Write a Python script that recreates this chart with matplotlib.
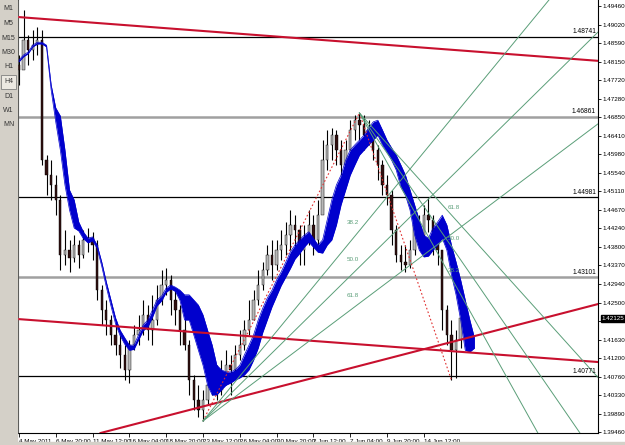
from matplotlib import pyplot as plt
from matplotlib.patches import Rectangle
import numpy as np

plt.rcParams['font.family'] = ['Liberation Sans', 'DejaVu Sans']

# H4 candles, one drawn every second bar slot
closes = [1.4796, 1.4866, 1.4843, 1.4854, 1.4866, 1.4584, 1.4549, 1.4526, 1.4491, 1.4362,
          1.4373, 1.4355, 1.4385, 1.4362, 1.4397, 1.4401, 1.4385, 1.4279, 1.4232, 1.4209,
          1.4174, 1.4150, 1.4127, 1.4092, 1.4150, 1.4174, 1.4185, 1.4221, 1.4185, 1.4209,
          1.4256, 1.4291, 1.4303, 1.4256, 1.4232, 1.4185, 1.4150, 1.4068, 1.4021, 1.3998,
          1.4021, 1.4056, 1.4080, 1.4045, 1.4068, 1.4103, 1.4092, 1.4127, 1.4150, 1.4185,
          1.4209, 1.4256, 1.4291, 1.4326, 1.4362, 1.4338, 1.4373, 1.4385, 1.4408, 1.4432,
          1.4420, 1.4373, 1.4397, 1.4432, 1.4397, 1.4455, 1.4584, 1.4620, 1.4643, 1.4608,
          1.4573, 1.4608, 1.4655, 1.4678, 1.4667, 1.4643, 1.4655, 1.4608, 1.4573, 1.4526,
          1.4502, 1.4420, 1.4362, 1.4345, 1.4338, 1.4373, 1.4432, 1.4408, 1.4455, 1.4444,
          1.4397, 1.4373, 1.4232, 1.4174, 1.4138, 1.4162, 1.42125]
highs = [1.4831, 1.4937, 1.4878, 1.4890, 1.4897, 1.4890, 1.4596, 1.4584, 1.4549, 1.4502,
         1.4420, 1.4397, 1.4408, 1.4397, 1.4420, 1.4425, 1.4416, 1.4397, 1.4291, 1.4256,
         1.4221, 1.4209, 1.4174, 1.4150, 1.4162, 1.4197, 1.4221, 1.4256, 1.4244, 1.4268,
         1.4291, 1.4326, 1.4331, 1.4315, 1.4279, 1.4244, 1.4232, 1.4162, 1.4080, 1.4056,
         1.4045, 1.4092, 1.4115, 1.4103, 1.4115, 1.4138, 1.4127, 1.4150, 1.4185, 1.4209,
         1.4256, 1.4279, 1.4326, 1.4345, 1.4385, 1.4397, 1.4397, 1.4420, 1.4439, 1.4467,
         1.4455, 1.4432, 1.4432, 1.4467, 1.4455, 1.4491, 1.4631, 1.4655, 1.4660, 1.4655,
         1.4631, 1.4631, 1.4678, 1.4690, 1.4695, 1.4690, 1.4678, 1.4667, 1.4620, 1.4584,
         1.4549, 1.4514, 1.4432, 1.4385, 1.4385, 1.4397, 1.4467, 1.4455, 1.4479, 1.4495,
         1.4455, 1.4420, 1.4373, 1.4244, 1.4209, 1.4185, 1.4256]
lows = [1.4761, 1.4819, 1.4808, 1.4819, 1.4831, 1.4573, 1.4502, 1.4491, 1.4455, 1.4326,
        1.4338, 1.4322, 1.4345, 1.4331, 1.4355, 1.4369, 1.4350, 1.4256, 1.4197, 1.4174,
        1.4150, 1.4127, 1.4096, 1.4068, 1.4061, 1.4138, 1.4150, 1.4174, 1.4162, 1.4150,
        1.4197, 1.4244, 1.4268, 1.4221, 1.4197, 1.4150, 1.4138, 1.4033, 1.3998, 1.3981,
        1.3972, 1.4009, 1.4033, 1.4021, 1.4033, 1.4056, 1.4033, 1.4080, 1.4115, 1.4138,
        1.4174, 1.4209, 1.4244, 1.4279, 1.4315, 1.4303, 1.4326, 1.4350, 1.4362, 1.4373,
        1.4373, 1.4338, 1.4338, 1.4385, 1.4362, 1.4385, 1.4467, 1.4561, 1.4584, 1.4573,
        1.4549, 1.4526, 1.4608, 1.4631, 1.4631, 1.4608, 1.4620, 1.4584, 1.4537, 1.4502,
        1.4479, 1.4385, 1.4345, 1.4326, 1.4322, 1.4331, 1.4362, 1.4385, 1.4397, 1.4416,
        1.4362, 1.4338, 1.4185, 1.4150, 1.4068, 1.4073, 1.4143]
first_open = 1.4808

# blue cloud (two lines, filled between)
cloud_top = [1.4819, 1.4831, 1.4838, 1.4854, 1.4861, 1.4861, 1.4854, 1.4761, 1.4707, 1.4688,
             1.4608, 1.4514, 1.4491, 1.4439, 1.4416, 1.4401, 1.4404, 1.4385, 1.4345, 1.4298,
             1.4256, 1.4214, 1.4185, 1.4167, 1.4150, 1.4150, 1.4174, 1.4197, 1.4209, 1.4232,
             1.4256, 1.4265, 1.4284, 1.4291, 1.4286, 1.4279, 1.4268, 1.4268, 1.4256, 1.4244,
             1.4221, 1.4185, 1.4150, 1.4103, 1.4092, 1.4087, 1.4087, 1.4092, 1.4103, 1.4127,
             1.4150, 1.4174, 1.4209, 1.4237, 1.4261, 1.4279, 1.4303, 1.4322, 1.4345, 1.4369,
             1.4385, 1.4397, 1.4408, 1.4416, 1.4401, 1.4385, 1.4397, 1.4444, 1.4491, 1.4526,
             1.4549, 1.4584, 1.4608, 1.4620, 1.4631, 1.4643, 1.4660, 1.4674, 1.4678, 1.4655,
             1.4631, 1.4613, 1.4596, 1.4573, 1.4549, 1.4514, 1.4479, 1.4444, 1.4408, 1.4401,
             1.4425, 1.4439, 1.4455, 1.4432, 1.4385, 1.4345, 1.4303, 1.4256, 1.4209, 1.4167]
cloud_bottom = [1.4815, 1.4827, 1.4834, 1.4850, 1.4857, 1.4857, 1.4850, 1.4749, 1.4674, 1.4608,
                1.4526, 1.4467, 1.4425, 1.4418, 1.4400, 1.4390, 1.4395, 1.4377, 1.4335, 1.4286,
                1.4242, 1.4200, 1.4172, 1.4152, 1.4138, 1.4140, 1.4162, 1.4184, 1.4192, 1.4215,
                1.4242, 1.4254, 1.4274, 1.4282, 1.4276, 1.4255, 1.4209, 1.4209, 1.4174, 1.4138,
                1.4103, 1.4056, 1.4033, 1.4033, 1.4045, 1.4056, 1.4061, 1.4068, 1.4073, 1.4080,
                1.4092, 1.4115, 1.4143, 1.4180, 1.4210, 1.4240, 1.4265, 1.4290, 1.4310, 1.4330,
                1.4352, 1.4365, 1.4380, 1.4392, 1.4380, 1.4368, 1.4366, 1.4385, 1.4397, 1.4432,
                1.4479, 1.4514, 1.4549, 1.4573, 1.4596, 1.4608, 1.4620, 1.4631, 1.4643, 1.4620,
                1.4603, 1.4584, 1.4561, 1.4521, 1.4502, 1.4467, 1.4408, 1.4373, 1.4357, 1.4359,
                1.4373, 1.4385, 1.4401, 1.4373, 1.4315, 1.4268, 1.4209, 1.4138, 1.4134, 1.4143]

date_labels = ["4 May 2011", "6 May 20:00", "11 May 12:00", "16 May 04:00", "18 May 20:00",
               "23 May 12:00", "26 May 04:00", "30 May 20:00", "2 Jun 12:00", "7 Jun 04:00",
               "9 Jun 20:00", "14 Jun 12:00"]
price_ticks = [1.49460, 1.49020, 1.48590, 1.48150, 1.47720, 1.47280, 1.46850, 1.46410,
               1.45980, 1.45540, 1.45110, 1.44670, 1.44240, 1.43800, 1.43370, 1.42940,
               1.42500, 1.42060, 1.41630, 1.41200, 1.40760, 1.40330, 1.39890, 1.39460]
last_price = 1.42125

levels = [1.48741, 1.46861, 1.44981, 1.43101, 1.40771]
level_colors = ['black', '#a0a0a0', 'black', '#a0a0a0', 'black']

# trend lines: (bar, price) pairs
trend_lines = [((0, 1.4920), (250, 1.4818)),
               ((0, 1.4211), (250, 1.4111)),
               ((0, 1.3894), (250, 1.4244))]

# fib fans: anchor bars / prices
fan_low = (80, 1.3972)
fan_high = (148, 1.4695)
fan_low2 = (188, 1.4068)
fib_ratios = [0.382, 0.5, 0.618]

timeframes = ["M1", "M5", "M15", "M30", "H1", "H4", "D1", "W1", "MN"]

W, H = 625, 445
fig = plt.figure(figsize=(W / 100, H / 100), dpi=100)
fig.patches.append(Rectangle((0, 0), 17 / W, 1, transform=fig.transFigure,
                             color='#d4d0c8', zorder=0))
fig.patches.append(Rectangle((0, 0), 1, 3 / H, transform=fig.transFigure,
                             color='#d4d0c8', zorder=0))

for n, tf in enumerate(timeframes):
    yp = 9 + n * 14.5
    if tf == "H4":
        fig.patches.append(Rectangle((1 / W, 1 - (yp + 7) / H), 15 / W, 14 / H,
                                     transform=fig.transFigure, facecolor='#ece9e2',
                                     edgecolor='#808080', lw=0.6))
    fig.text(8.5 / W, 1 - yp / H, tf, fontsize=5, color='#333333',
             ha='center', va='center')

ax = fig.add_axes([18 / W, 12 / H, 580 / W, 433 / H])
ax.set_xlim(-0.4, 251.7)
ax.set_ylim(1.39437, 1.49601)

# candles
xs = np.arange(len(closes)) * 2
opens = [first_open] + closes[:-1]
ax.vlines(xs, lows, highs, color='black', lw=0.8, zorder=2)
for x, o, c in zip(xs, opens, closes):
    col = '#b8b8b8' if c >= o else '#301010'
    ax.bar(x, c - o, bottom=o, width=1.0, color=col, edgecolor='black', lw=0.3, zorder=3)

# cloud
xc = np.arange(len(cloud_top)) * 2
ax.fill_between(xc, cloud_top, cloud_bottom, color='#0000cd', lw=0, zorder=4)
ax.plot(xc, cloud_top, color='#0000cd', lw=0.5, zorder=4)
ax.plot(xc, cloud_bottom, color='#0000cd', lw=0.5, zorder=4)

# horizontal levels
for lv, col in zip(levels, level_colors):
    ax.axhline(lv, color=col, lw=1.8 if col != 'black' else 0.9, zorder=1)
    ax.text(250.8, lv + 0.0003, "%.5f" % lv, fontsize=4.8, ha='right', va='bottom', zorder=6)

# trend lines
for p1, p2 in trend_lines:
    ax.axline(p1, p2, color='#c8102e', lw=1.5, zorder=5)


def fan(ax, a, b, labels_left):
    ax.plot([a[0], b[0]], [a[1], b[1]], color='#e03030', lw=0.8, ls=(0, (1.5, 2)), zorder=5)
    for r in fib_ratios:
        py = b[1] - r * (b[1] - a[1])
        slope = (py - a[1]) / (b[0] - a[0])
        xe = 400
        ax.plot([a[0], xe], [a[1], a[1] + slope * (xe - a[0])],
                color='#5a9e78', lw=0.7, zorder=5)
        lx = b[0] - 3 if labels_left else b[0] + 1
        ax.text(lx, py + 0.0012, "%.1f" % (r * 100), fontsize=4.5,
                color='#5a9e78', ha='center', va='bottom', zorder=6)


fan(ax, fan_low, fan_high, True)
fan(ax, fan_high, fan_low2, False)

# axes look
ax.spines['top'].set_visible(False)
ax.spines['left'].set_color('#404040')
ax.spines['right'].set_color('black')
ax.spines['bottom'].set_color('black')

ax.yaxis.tick_right()
ax.set_yticks(price_ticks)
# the tick hidden under the last price box gets no label
ax.set_yticklabels(["" if abs(p - last_price) < 0.001 else "%.5f" % p for p in price_ticks])
ax.tick_params(axis='y', labelsize=4.5, length=2.5, pad=1, width=0.6)
ax.set_xticks(np.arange(len(date_labels)) * 16)
ax.set_xticklabels(date_labels, ha='left')
ax.tick_params(axis='x', labelsize=4.5, length=3, pad=1, width=0.6)

ax.annotate("%.5f" % last_price, xy=(1.0, last_price), xycoords=('axes fraction', 'data'),
            xytext=(2.5, 0), textcoords='offset points', fontsize=4.5, color='white',
            va='center', ha='left',
            bbox=dict(boxstyle='square,pad=0.1', fc='black', ec='black'))

fig.savefig("out.png", dpi=100)
